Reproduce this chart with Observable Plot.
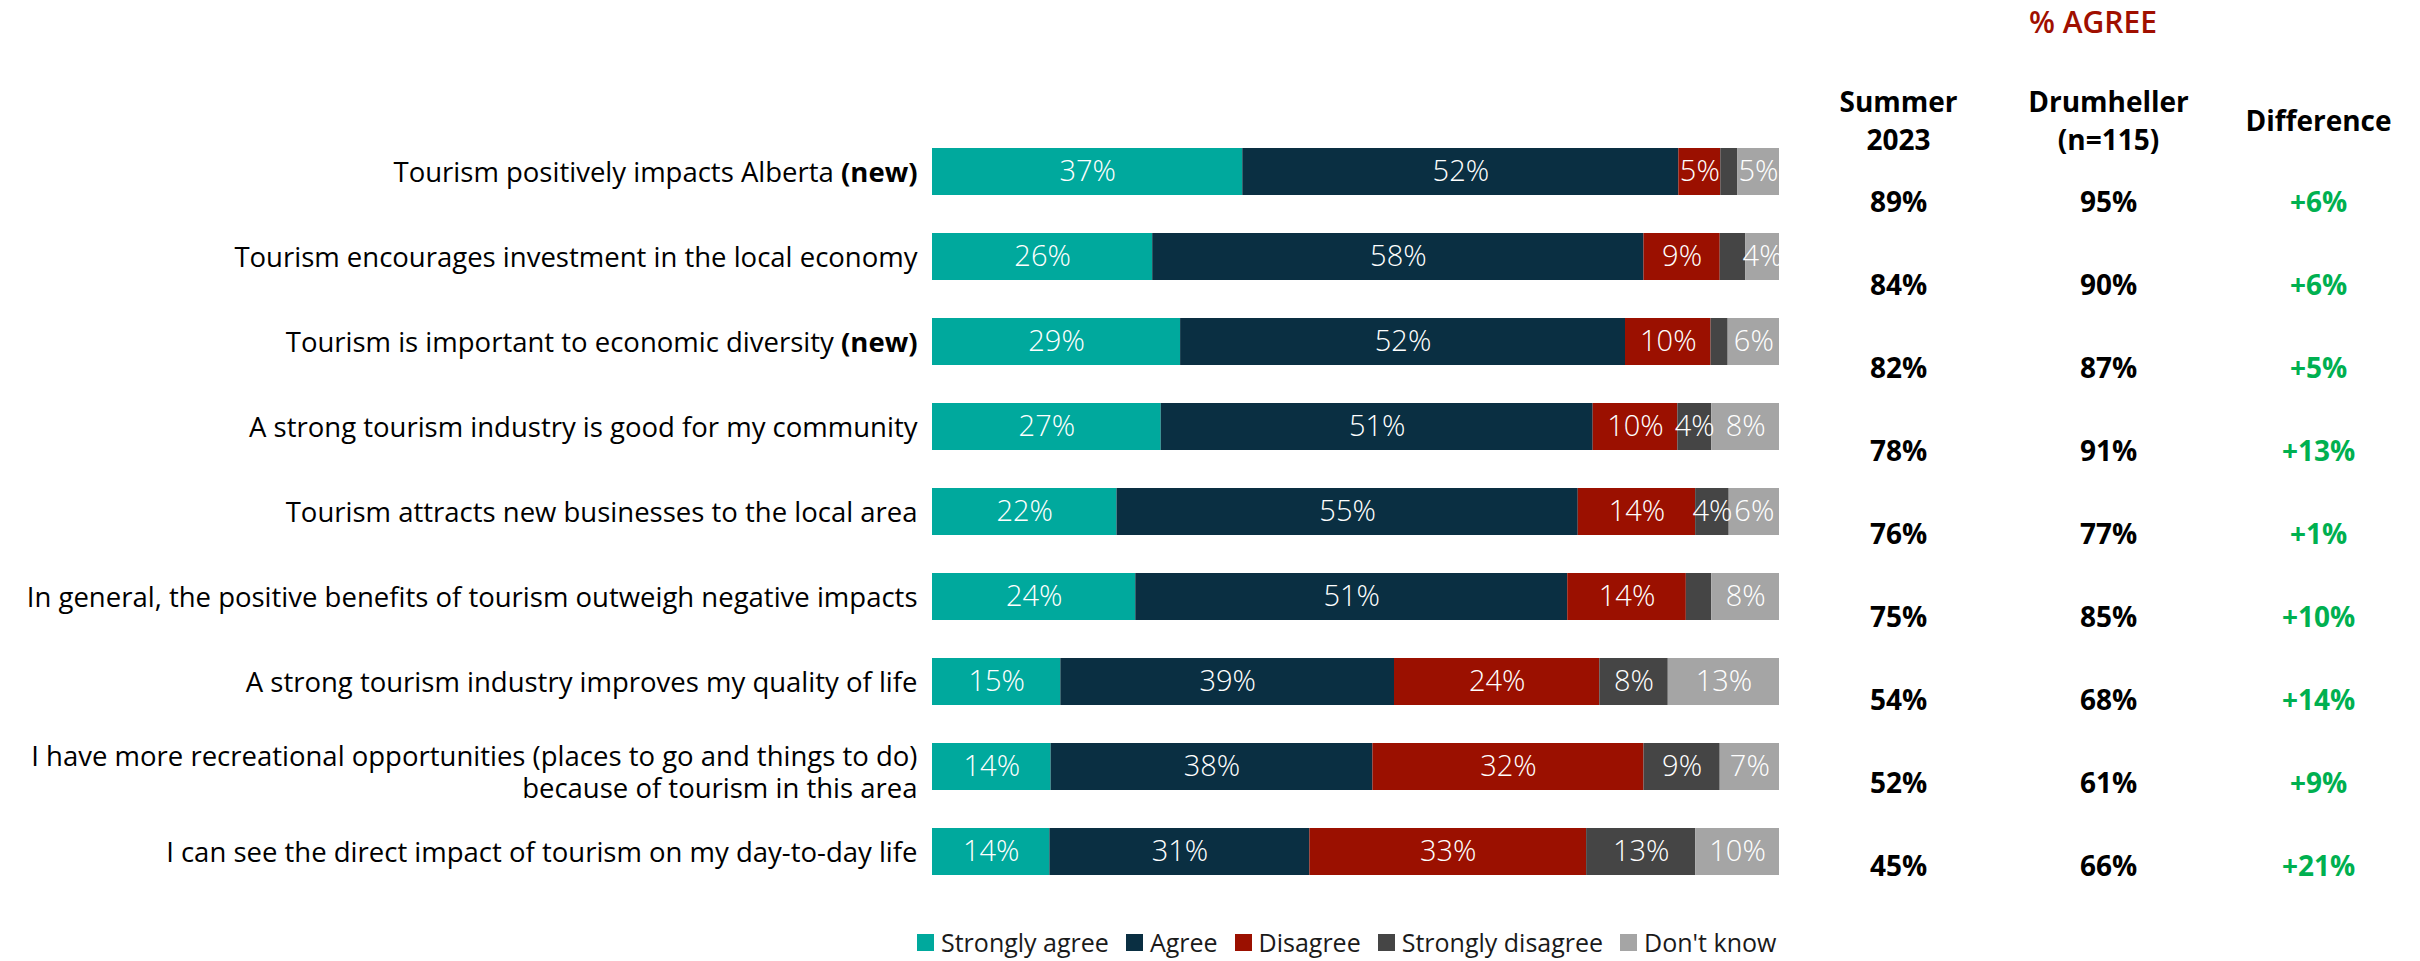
<!DOCTYPE html>
<html>
<head>
<meta charset="utf-8">
<script src="https://cdn.jsdelivr.net/npm/d3@7"></script>
<script src="https://cdn.jsdelivr.net/npm/@observablehq/plot@0.6"></script>
<style>
  html, body { margin: 0; padding: 0; background: #fff; }
  #wrap { position: relative; width: 2420px; height: 961px; font-family: "Open Sans", sans-serif; overflow: hidden; }
  #wrap svg { position: absolute; left: 0; top: 0; max-width: none; }
  #agree { position: absolute; left: 1993px; width: 200px; top: 1px; text-align: center; font-size: 30px; font-weight: 600; color: #A00F00; line-height: 42px; }
  #legend { position: absolute; top: 925px; left: 917px; display: flex; align-items: center; font-size: 25px; color: #1a1a1a; white-space: nowrap; }
  #legend .item { display: flex; align-items: center; margin-right: 17px; }
  #legend .sw { width: 17px; height: 17px; margin-right: 7px; }
</style>
</head>
<body>
<div id="wrap"></div>
<script>
const statements = [
  "Tourism positively impacts Alberta (new)",
  "Tourism encourages investment in the local economy",
  "Tourism is important to economic diversity (new)",
  "A strong tourism industry is good for my community",
  "Tourism attracts new businesses to the local area",
  "In general, the positive benefits of tourism outweigh negative impacts",
  "A strong tourism industry improves my quality of life",
  "I have more recreational opportunities (places to go and things to do)\nbecause of tourism in this area",
  "I can see the direct impact of tourism on my day-to-day life"
];
const responses = ["Strongly agree", "Agree", "Disagree", "Strongly disagree", "Don't know"];
const colors = ["#00A99D", "#0A2F42", "#9B1000", "#454545", "#A5A5A5"];

const stronglyAgree    = [37, 26, 29, 27, 22, 24, 15, 14, 14];
const agree            = [52, 58, 52, 51, 55, 51, 39, 38, 31];
const disagree         = [5, 9, 10, 10, 14, 14, 24, 32, 33];
const stronglyDisagree = [2, 3, 2, 4, 4, 3, 8, 9, 13];
const dontKnow         = [5, 4, 6, 8, 6, 8, 13, 7, 10];

const tableColumns = ["Summer\n2023", "Drumheller\n(n=115)", "Difference"];
const summer2023 = [89, 84, 82, 78, 76, 75, 54, 52, 45];
const drumheller = [95, 90, 87, 91, 77, 85, 68, 61, 66];
const difference = [6, 6, 5, 13, 1, 10, 14, 9, 21];

// long-format table built from the arrays
const series = [stronglyAgree, agree, disagree, stronglyDisagree, dontKnow];
const rows = [];
statements.forEach((s, i) => {
  responses.forEach((r, j) => rows.push({statement: s, response: r, value: series[j][i]}));
});

const tableRows = [];
statements.forEach((s, i) => {
  tableRows.push({statement: s, col: tableColumns[0], text: summer2023[i] + "%", color: "#000"});
  tableRows.push({statement: s, col: tableColumns[1], text: drumheller[i] + "%", color: "#000"});
  tableRows.push({statement: s, col: tableColumns[2], text: (difference[i] >= 0 ? "+" : "") + difference[i] + "%", color: "#00B050"});
});

const W = 2420, H = 961;

const main = Plot.plot({
  width: W,
  height: H,
  marginLeft: 932,
  marginRight: W - 1779,
  marginTop: 126,
  marginBottom: H - 896,
  style: {fontFamily: "Open Sans", fontSize: "27px", background: "transparent", color: "#000"},
  x: {domain: [0, 1], axis: null},
  y: {domain: statements, paddingInner: 0.45, paddingOuter: 0.225, label: null},
  color: {domain: responses, range: colors},
  marks: [
    Plot.barX(rows, Plot.stackX({x: "value", y: "statement", fill: "response", order: responses, offset: "normalize"})),
    Plot.text(rows, Plot.stackX({
      x: "value", y: "statement", z: "response", order: responses, offset: "normalize",
      text: d => d.value >= 4 ? d.value + "%" : "",
      fill: "white", fontSize: 29, fontWeight: 300
    })),
    Plot.axisY({tickSize: 0, tickPadding: 15, fontSize: 27.5, lineHeight: 1.17, label: null, fill: "#000"})
  ]
});

// bold "(new)" in tick labels; nudge the two-line label down slightly
d3.select(main).selectAll("text").each(function() {
  const t = d3.select(this);
  if (t.selectAll("tspan").size() === 0) {
    const s = t.text();
    if (s.endsWith(" (new)")) {
      t.text(s.slice(0, -5));
      t.append("tspan").attr("font-weight", "bold").text("(new)");
    }
  } else if (t.text().startsWith("I have more")) {
    t.selectAll("tspan").filter((d, i) => i === 0).attr("dy", function() {
      const v = d3.select(this).attr("dy");
      return v ? (parseFloat(v) + 0.18) + "em" : "0.18em";
    });
  }
});

const table = Plot.plot({
  width: W,
  height: H,
  margin: 0,
  style: {fontFamily: "Open Sans", background: "transparent", color: "#000"},
  x: {type: "point", domain: tableColumns, range: [1898, 2318], padding: 0, axis: null},
  y: {type: "point", domain: statements, range: [200, 869], padding: 0, axis: null},
  marks: [
    Plot.text(tableColumns, {x: d => d, frameAnchor: "top", dy: 118, text: d => d, lineAnchor: "middle", lineHeight: 1.36, fontSize: 28, fontWeight: "bold", fill: "#000"}),
    Plot.text(tableRows, {x: "col", y: "statement", text: "text", fill: d => d.color, fontSize: 28, fontWeight: "bold"})
  ]
});

const wrap = document.getElementById("wrap");
wrap.appendChild(main);
wrap.appendChild(table);

const agreeDiv = document.createElement("div");
agreeDiv.id = "agree";
agreeDiv.textContent = "% AGREE";
wrap.appendChild(agreeDiv);

const legend = document.createElement("div");
legend.id = "legend";
responses.forEach((r, i) => {
  const item = document.createElement("div");
  item.className = "item";
  const sw = document.createElement("span");
  sw.className = "sw";
  sw.style.background = colors[i];
  const lab = document.createElement("span");
  lab.textContent = r;
  item.appendChild(sw);
  item.appendChild(lab);
  legend.appendChild(item);
});
wrap.appendChild(legend);
</script>
</body>
</html>
